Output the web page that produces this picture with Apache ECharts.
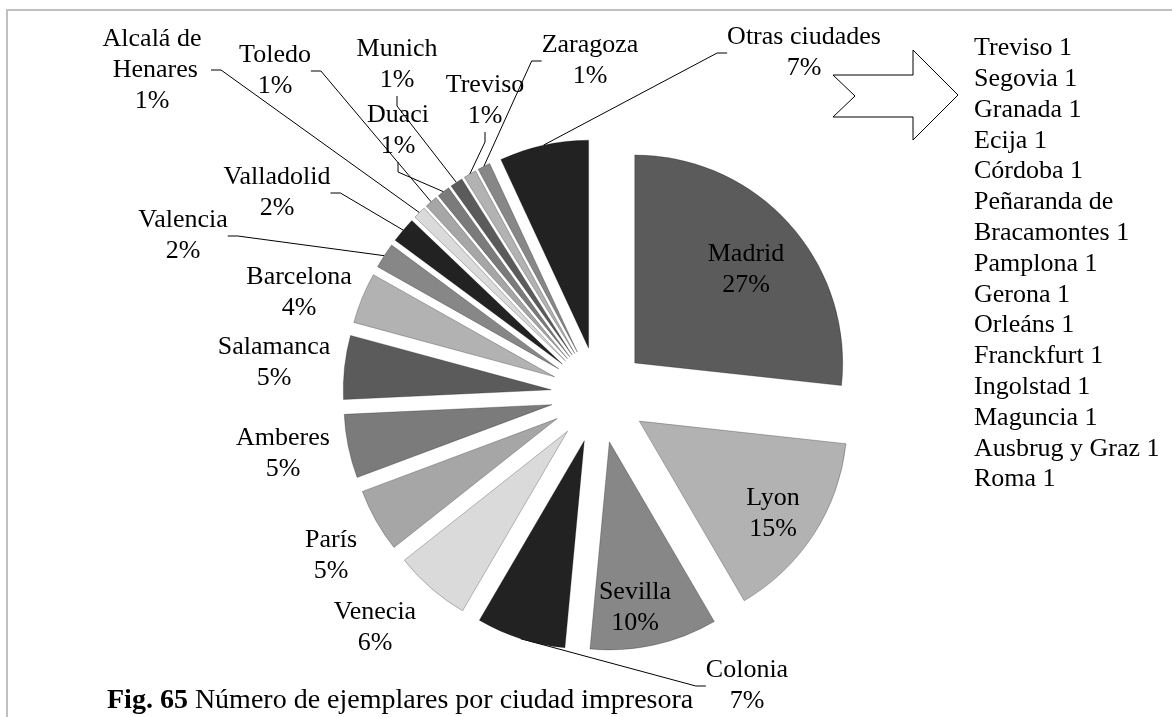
<!DOCTYPE html>
<html>
<head>
<meta charset="utf-8">
<title>Número de ejemplares por ciudad impresora</title>
<script src="https://cdn.jsdelivr.net/npm/echarts@6/dist/echarts.min.js"></script>
<style>
  html, body { margin: 0; padding: 0; background: #ffffff; }
  #chart { width: 1172px; height: 717px; }
</style>
</head>
<body>
<div id="chart"></div>
<script>
// Ciudades impresoras y su porcentaje de ejemplares
const ciudades = ['Madrid', 'Lyon', 'Sevilla', 'Colonia', 'Venecia', 'París', 'Amberes',
  'Salamanca', 'Barcelona', 'Valencia', 'Valladolid', 'Alcalá de Henares', 'Toledo',
  'Duaci', 'Munich', 'Treviso', 'Zaragoza', 'Otras ciudades'];
const porcentajes = [27, 15, 10, 7, 6, 5, 5, 5, 4, 2, 2, 1, 1, 1, 1, 1, 1, 7];

// Desglose de "Otras ciudades"
const otrasNombres = ['Treviso', 'Segovia', 'Granada', 'Ecija', 'Córdoba',
  'Peñaranda de Bracamontes', 'Pamplona', 'Gerona', 'Orleáns', 'Franckfurt',
  'Ingolstad', 'Maguncia', 'Ausbrug y Graz', 'Roma'];
const otrasEjemplares = [1, 1, 1, 1, 1, 1, 1, 1, 1, 1, 1, 1, 1, 1];

// Tonos de gris que se repiten cada siete sectores
const grises = ['#5b5b5b', '#b2b2b2', '#878787', '#222222', '#dadada', '#a6a6a6', '#7b7b7b'];
// Centro de cada etiqueta, en píxeles
const etiquetaCentros = [
  [746, 270], [773, 514], [635, 608], [747, 686], [375, 628], [331, 556], [283, 454],
  [274, 363], [299, 293], [183, 236], [277, 193], [152, 70], [275, 71],
  [398, 131], [397, 65], [485, 101], [590, 61], [804, 53]
];
const conGuia = ['Colonia', 'Valencia', 'Valladolid', 'Alcalá de Henares', 'Toledo',
  'Duaci', 'Munich', 'Treviso', 'Zaragoza', 'Otras ciudades'];

const FUENTE = '"Liberation Serif", "Times New Roman", serif';
const TAM = 26;
const CENTRO = [599, 395];
const RADIO = 208;
const SEPARACION = 48;

// Sectores separados (todos seleccionados para desplazarse hacia fuera)
const sectores = ciudades.map(function (nombre, i) {
  return {
    name: nombre,
    value: porcentajes[i],
    selected: true,
    itemStyle: { color: grises[i % grises.length] }
  };
});

// Misma serie, invisible, que sólo lleva las etiquetas y sus líneas guía;
// su radio alcanza el borde exterior de los sectores desplazados.
const etiquetas = ciudades.map(function (nombre, i) {
  const item = {
    name: nombre,
    value: porcentajes[i],
    labelLine: { show: conGuia.indexOf(nombre) >= 0 }
  };
  if (nombre === 'Alcalá de Henares') {
    item.label = { width: 118, overflow: 'break' };
  }
  return item;
});

const listaOtras = otrasNombres.map(function (n, i) {
  return n + ' ' + otrasEjemplares[i];
}).join('\n');

const chart = echarts.init(document.getElementById('chart'), null, { renderer: 'canvas' });

chart.setOption({
  backgroundColor: '#ffffff',
  animation: false,
  title: {
    text: '{b|Fig. 65} Número de ejemplares por ciudad impresora',
    left: 107,
    top: 685,
    padding: 0,
    textStyle: {
      fontFamily: FUENTE,
      fontSize: 28,
      fontWeight: 'normal',
      color: '#000000',
      lineHeight: 32,
      rich: {
        b: { fontFamily: FUENTE, fontSize: 28, fontWeight: 'bold', color: '#000000', lineHeight: 32 }
      }
    }
  },
  graphic: [
    {
      type: 'rect',
      silent: true,
      shape: { x: 7, y: 10, width: 1300, height: 900 },
      style: { fill: 'none', stroke: '#c0c0c0', lineWidth: 2 }
    },
    {
      type: 'polygon',
      silent: true,
      shape: {
        points: [[833, 75], [913, 75], [913, 50], [958, 95], [913, 140],
                 [913, 117], [833, 117], [855, 96]]
      },
      style: { fill: '#ffffff', stroke: '#000000', lineWidth: 1 }
    },
    {
      type: 'text',
      silent: true,
      x: 974,
      y: 33,
      style: {
        text: listaOtras,
        fontFamily: FUENTE,
        fontSize: TAM,
        lineHeight: 30.8,
        fill: '#000000',
        width: 200,
        overflow: 'break'
      }
    }
  ],
  series: [
    {
      type: 'pie',
      name: 'sectores',
      center: CENTRO,
      radius: RADIO,
      startAngle: 90,
      clockwise: true,
      selectedMode: 'multiple',
      selectedOffset: SEPARACION,
      emphasis: { disabled: true, scale: false },
      itemStyle: { borderColor: 'rgba(0,0,0,0.25)', borderWidth: 1 },
      select: { itemStyle: { borderColor: 'rgba(0,0,0,0.25)', borderWidth: 1 } },
      label: { show: false },
      labelLine: { show: false },
      data: sectores
    },
    {
      type: 'pie',
      name: 'etiquetas',
      silent: true,
      center: CENTRO,
      radius: RADIO + SEPARACION,
      startAngle: 90,
      clockwise: true,
      selectedMode: false,
      avoidLabelOverlap: false,
      minShowLabelAngle: 0,
      emphasis: { disabled: true, scale: false },
      itemStyle: { color: 'rgba(0,0,0,0)', borderWidth: 0 },
      label: {
        show: true,
        position: 'outside',
        formatter: '{b}\n{c}%',
        fontFamily: FUENTE,
        fontSize: TAM,
        lineHeight: 31,
        color: '#000000',
        align: 'center'
      },
      labelLine: {
        length: 10,
        length2: 10,
        smooth: false,
        lineStyle: { color: '#000000', width: 1 }
      },
      labelLayout: function (p) {
        const c = etiquetaCentros[p.dataIndex];
        return { x: c[0], y: c[1], align: 'center', verticalAlign: 'middle' };
      },
      data: etiquetas
    }
  ]
});
</script>
</body>
</html>
